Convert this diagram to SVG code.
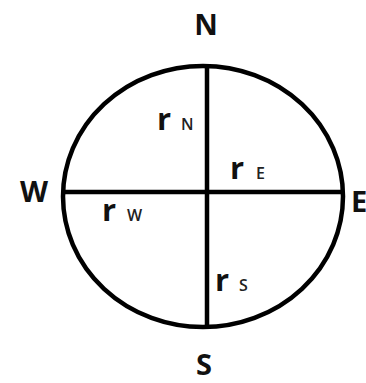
<svg xmlns="http://www.w3.org/2000/svg" width="366" height="383" viewBox="0 0 366 383">
<style>
.lbl{font-family:"Open Sans","Liberation Sans",sans-serif;font-weight:bold;font-size:29px;fill:#111;text-anchor:middle}
.r{font-family:"Open Sans","Liberation Sans",sans-serif;font-weight:bold;font-size:31px;fill:#111}
.sub{font-family:"Open Sans","Liberation Sans",sans-serif;font-weight:600;font-size:16px;fill:#222}
.ln{stroke:#000;stroke-width:4.5;fill:none}
</style>
<rect width="366" height="383" fill="#fff"/>
<g id="circle"><ellipse class="ln" cx="203" cy="196.5" rx="140" ry="130.5"/></g>
<g id="connectors">
<line class="ln" x1="207" y1="66" x2="207" y2="328"/>
<line class="ln" x1="63" y1="192" x2="343" y2="192"/>
</g>
<g id="N"><text class="lbl" x="206" y="35">N</text></g>
<g id="W"><text class="lbl" x="34" y="202">W</text></g>
<g id="E"><text class="lbl" x="351" y="212" style="text-anchor:start">E</text></g>
<g id="S"><text class="lbl" x="204" y="375">S</text></g>
<g id="rN"><text class="r" x="157" y="130">r</text><text class="sub" x="181" y="130">N</text></g>
<g id="rE"><text class="r" x="230" y="179">r</text><text class="sub" x="256" y="179">E</text></g>
<g id="rW"><text class="r" x="102" y="221">r</text><text class="sub" x="127" y="221">W</text></g>
<g id="rS"><text class="r" x="215" y="291">r</text><text class="sub" x="239" y="291">S</text></g>
</svg>
